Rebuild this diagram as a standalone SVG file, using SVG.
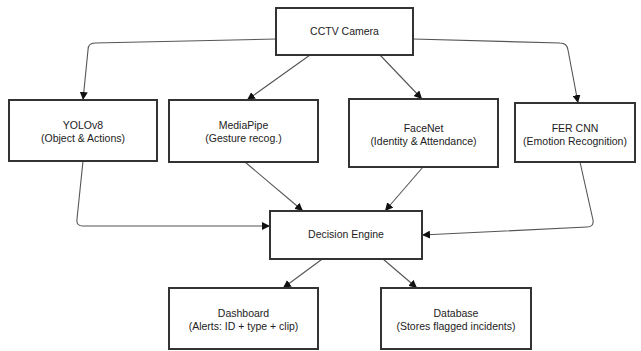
<svg xmlns="http://www.w3.org/2000/svg" width="641" height="351" viewBox="0 0 641 351">
<defs>
<style>
.box{fill:#fff;stroke:#333;stroke-width:2}
.lbl{font-family:"Liberation Sans",Arial,sans-serif;font-size:10.5px;fill:#222;text-anchor:middle}
.edge{fill:none;stroke:#555;stroke-width:1.1}
</style>
<marker id="arr" markerUnits="userSpaceOnUse" markerWidth="9" markerHeight="8" refX="8" refY="4" orient="auto">
<path d="M0,0 L8,4 L0,8 Z" fill="#111"/>
</marker>
</defs>
<rect width="641" height="351" fill="#fff"/>
<g id="connectors">
<path class="edge" marker-end="url(#arr)" d="M276,39 L95,43 Q88,43 88,50 L83,100"/>
<path class="edge" marker-end="url(#arr)" d="M310,55 L247,100"/>
<path class="edge" marker-end="url(#arr)" d="M380,55 L422,99"/>
<path class="edge" marker-end="url(#arr)" d="M413,39 L560,43 Q567,43 568,50 L578,103"/>
<path class="edge" marker-end="url(#arr)" d="M83,161 L77,219 Q76,226 83,226 L270,226"/>
<path class="edge" marker-end="url(#arr)" d="M245,162 L303,211"/>
<path class="edge" marker-end="url(#arr)" d="M423,167 L385,211"/>
<path class="edge" marker-end="url(#arr)" d="M580,162 L593,220 Q594,227 587,227 L422,235"/>
<path class="edge" marker-end="url(#arr)" d="M325,257 L283,288"/>
<path class="edge" marker-end="url(#arr)" d="M383,259 L417,288"/>
</g>
<g id="cctv">
<rect class="box" x="276" y="8" width="137" height="47"/>
<text class="lbl" x="344.5" y="35">CCTV Camera</text>
</g>
<g id="yolo">
<rect class="box" x="9" y="100" width="148" height="61"/>
<text class="lbl" x="83" y="128.5">YOLOv8</text>
<text class="lbl" x="83" y="141.5">(Object &amp; Actions)</text>
</g>
<g id="mediapipe">
<rect class="box" x="169" y="100" width="149" height="62"/>
<text class="lbl" x="243.5" y="128.5">MediaPipe</text>
<text class="lbl" x="243.5" y="141.5">(Gesture recog.)</text>
</g>
<g id="facenet">
<rect class="box" x="349" y="99" width="149" height="68"/>
<text class="lbl" x="423.5" y="131.5">FaceNet</text>
<text class="lbl" x="423.5" y="144.5">(Identity &amp; Attendance)</text>
</g>
<g id="fercnn">
<rect class="box" x="515" y="103" width="120" height="59"/>
<text class="lbl" x="575" y="131.5">FER CNN</text>
<text class="lbl" x="575" y="144.5">(Emotion Recognition)</text>
</g>
<g id="decision">
<rect class="box" x="270" y="211" width="152" height="48"/>
<text class="lbl" x="346" y="238">Decision Engine</text>
</g>
<g id="dashboard">
<rect class="box" x="169" y="288" width="149" height="61"/>
<text class="lbl" x="243.5" y="317">Dashboard</text>
<text class="lbl" x="243.5" y="330">(Alerts: ID + type + clip)</text>
</g>
<g id="database">
<rect class="box" x="381" y="288" width="150" height="61"/>
<text class="lbl" x="456" y="317">Database</text>
<text class="lbl" x="456" y="330">(Stores flagged incidents)</text>
</g>
</svg>
